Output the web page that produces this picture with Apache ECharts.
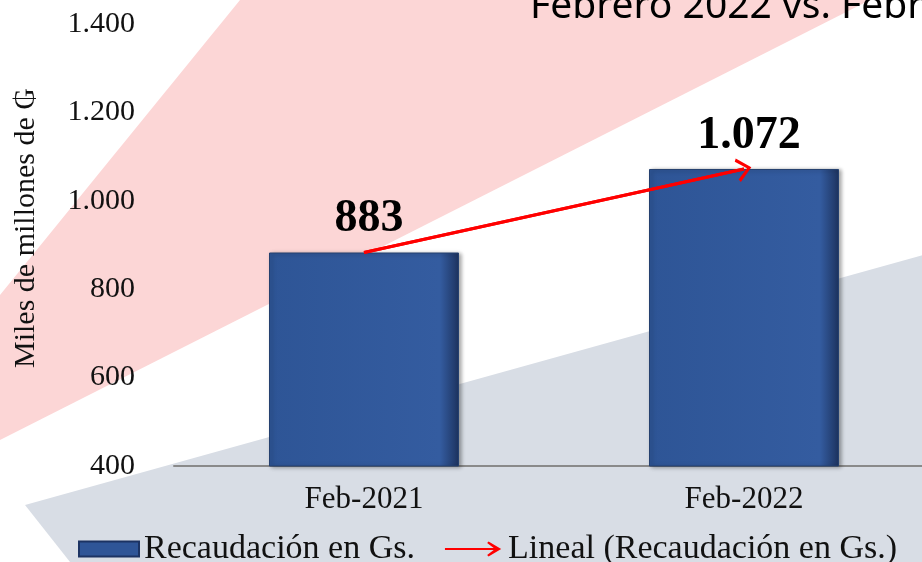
<!DOCTYPE html>
<html>
<head>
<meta charset="utf-8">
<script src="https://cdn.jsdelivr.net/npm/echarts@6/dist/echarts.min.js"></script>
<style>
  html, body { margin: 0; padding: 0; background: #fff; overflow: hidden; }
  /* el gráfico original se sale por la derecha */
  #chart { width: 934px; height: 562px; }
</style>
</head>
<body>
<div id="chart"></div>
<script>
// datos
var categorias = ['Feb-2021', 'Feb-2022'];
var recaudacion = [883, 1072];
var yMin = 400, yMax = 1400, yPaso = 200;
var nombreBarra = 'Recaudación en Gs.';
var nombreLinea = 'Lineal (Recaudación en Gs.)';

// separador de miles con punto
function miles(v) {
  return String(v).replace(/\B(?=(\d{3})+(?!\d))/g, '.');
}

var chart = echarts.init(document.getElementById('chart'));

var serif = '"Liberation Serif", "DejaVu Serif", serif';

var option = {
  animation: false,
  // fondo con franjas diagonales
  graphic: [
    { type: 'polygon', z: -10, silent: true,
      shape: { points: [[240, 0], [870, 0], [0, 440], [0, 295]] },
      style: { fill: '#fcd6d6' } },
    { type: 'polygon', z: -10, silent: true,
      shape: { points: [[934, 252], [934, 562], [70, 562], [25, 505]] },
      style: { fill: '#d8dde5' } },
    { type: 'text', z: 10, silent: true,
      style: { x: 530, y: 26, verticalAlign: 'bottom', text: 'Febrero 2022 vs. Febrero 2021',
               font: '39px "Noto Sans", sans-serif', fill: '#000' } }
  ],
  grid: { left: 174, top: 24, right: 0, height: 442 },
  legend: {
    left: 73, top: 527,
    itemWidth: 60, itemHeight: 15, itemGap: 30,
    textStyle: { fontFamily: serif, fontSize: 34, color: '#111' },
    data: [
      { name: nombreBarra, icon: 'rect', itemStyle: { color: '#2f5597', borderColor: '#1c3363', borderWidth: 2 } },
      { name: nombreLinea,
        icon: 'path://M0,7 L52,7 L45,1.5 L46.5,0 L60,8 L46.5,16 L45,14.5 L52,9 L0,9 Z',
        itemStyle: { color: '#ff0000' } }
    ]
  },
  xAxis: {
    type: 'category',
    data: categorias,
    axisTick: { show: false },
    axisLine: { lineStyle: { color: '#8a8a8a', width: 2 } },
    axisLabel: { fontFamily: serif, fontSize: 31, color: '#111', margin: 18 }
  },
  yAxis: {
    type: 'value',
    min: yMin, max: yMax, interval: yPaso,
    name: 'Miles de millones de ₲',
    nameLocation: 'middle',
    nameGap: 133,
    nameTextStyle: { fontFamily: serif, fontSize: 30, color: '#111', padding: [0, 0, 0, 34] },
    axisLine: { show: false },
    axisTick: { show: false },
    splitLine: { show: false },
    axisLabel: { fontFamily: serif, fontSize: 30, color: '#111', margin: 39, formatter: miles }
  },
  series: [
    {
      name: nombreBarra,
      type: 'bar',
      data: recaudacion,
      barWidth: '50%',
      silent: true,
      itemStyle: {
        color: new echarts.graphic.LinearGradient(0, 0, 1, 0, [
          { offset: 0, color: '#2e5596' },
          { offset: 0.9, color: '#345ca0' },
          { offset: 1, color: '#1d335f' }
        ]),
        borderColor: '#24406f',
        borderWidth: 1,
        shadowColor: 'rgba(0,0,0,0.35)',
        shadowBlur: 4,
        shadowOffsetX: 2,
        shadowOffsetY: 1
      },
      label: {
        show: true,
        position: 'top',
        distance: 12,
        offset: [5, 2],
        fontFamily: serif,
        fontWeight: 'bold',
        fontSize: 46,
        color: '#000',
        formatter: function (p) { return miles(p.value); }
      }
    },
    {
      name: nombreLinea,
      type: 'line',
      data: recaudacion,
      silent: true,
      showSymbol: false,
      itemStyle: { color: '#ff0000' },
      lineStyle: { color: '#ff0000', width: 3 },
      z: 5,
      markLine: {
        silent: true,
        symbol: ['none', 'path://M0,12 L8,0 L16,12 L14,13.5 L8,4 L2,13.5 Z'],
        symbolSize: [24, 15],
        label: { show: false },
        lineStyle: { color: '#ff0000', width: 3, type: 'solid' },
        data: [[
          { coord: [categorias[0], recaudacion[0]] },
          { coord: [categorias[1], recaudacion[1]] }
        ]]
      }
    }
  ]
};

chart.setOption(option);
</script>
</body>
</html>
